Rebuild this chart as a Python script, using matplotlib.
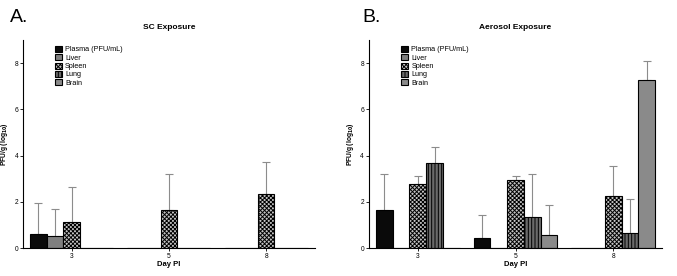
import numpy as np
import matplotlib
matplotlib.use("Agg")
import matplotlib.pyplot as plt

plt.rcParams['font.family'] = ['Liberation Sans', 'DejaVu Sans']
plt.rcParams['hatch.linewidth'] = 0.7

days = ["3", "5", "8"]
series = ["Plasma (PFU/mL)", "Liver", "Spleen", "Lung", "Brain"]
nan = np.nan

# mean values (log10) per series, per day
sc_mean = {
    "Plasma (PFU/mL)": [0.61, nan, nan],
    "Liver": [0.52, nan, nan],
    "Spleen": [1.12, 1.66, 2.33],
    "Lung": [nan, nan, nan],
    "Brain": [nan, nan, nan],
}
sc_top = {
    "Plasma (PFU/mL)": [1.95, nan, nan],
    "Liver": [1.69, nan, nan],
    "Spleen": [2.65, 3.21, 3.72],
    "Lung": [nan, nan, nan],
    "Brain": [nan, nan, nan],
}
aero_mean = {
    "Plasma (PFU/mL)": [1.66, 0.43, nan],
    "Liver": [nan, nan, nan],
    "Spleen": [2.77, 2.95, 2.23],
    "Lung": [3.67, 1.34, 0.65],
    "Brain": [nan, 0.58, 7.28],
}
aero_top = {
    "Plasma (PFU/mL)": [3.18, 1.41, nan],
    "Liver": [nan, nan, nan],
    "Spleen": [3.10, 3.11, 3.53],
    "Lung": [4.38, 3.20, 2.12],
    "Brain": [nan, 1.86, 8.07],
}

styles = {
    "Plasma (PFU/mL)": dict(color="#0a0a0a", hatch=None),
    "Liver": dict(color="#7f7f7f", hatch=None),
    "Spleen": dict(color="#c4c4c4", hatch="xxxxxxxx"),
    "Lung": dict(color="#6a6a6a", hatch="|||||"),
    "Brain": dict(color="#8a8a8a", hatch=None),
}

fig = plt.figure(figsize=(6.77, 2.76), dpi=100)
ax1 = fig.add_axes([0.034, 0.1014, 0.431, 0.754])
ax2 = fig.add_axes([0.545, 0.1014, 0.433, 0.754])

width = 0.171
x = np.arange(len(days))


def draw(ax, means, tops, title):
    for i, s in enumerate(series):
        pos = x + (i - 2) * width
        vals = np.array(means[s], dtype=float)
        top = np.array(tops[s], dtype=float)
        st = styles[s]
        ax.bar(pos, np.nan_to_num(vals), width, color=st["color"], hatch=st["hatch"],
               edgecolor="black", linewidth=0.8, label=s, zorder=2)
        ok = ~np.isnan(vals)
        ax.errorbar(pos[ok], vals[ok], yerr=[np.zeros(ok.sum()), (top - vals)[ok]],
                    fmt="none", ecolor="#8c8c8c", elinewidth=0.8, capsize=3,
                    capthick=0.8, zorder=1)
    ax.set_xlim(-0.5, 2.5)
    ax.set_ylim(0, 9)
    ax.set_yticks([0, 2, 4, 6, 8])
    ax.set_xticks(x)
    ax.set_xticklabels(days)
    ax.tick_params(labelsize=4.8, length=2, width=0.6, pad=1.5)
    for sp in ["top", "right"]:
        ax.spines[sp].set_visible(False)
    for sp in ["left", "bottom"]:
        ax.spines[sp].set_linewidth(0.8)
    ax.set_title(title, fontsize=6, fontweight="bold", pad=8)
    ax.set_xlabel("Day PI", fontsize=5.5, fontweight="bold", labelpad=1)
    ax.set_ylabel("PFU/g (log$_{\\mathbf{10}}$)", fontsize=4.8, fontweight="bold", labelpad=3)
    ax.legend(loc="upper left", bbox_to_anchor=(0.1, 0.985), frameon=False, fontsize=5.2,
              handlelength=1.0, handleheight=0.9, handletextpad=0.4, labelspacing=0.12,
              borderaxespad=0)


draw(ax1, sc_mean, sc_top, "SC Exposure")
draw(ax2, aero_mean, aero_top, "Aerosol Exposure")

fig.text(0.014, 0.92, "A.", fontsize=14, va="baseline", ha="left")
fig.text(0.535, 0.92, "B.", fontsize=14, va="baseline", ha="left")

fig.savefig("out.png", dpi=100)
